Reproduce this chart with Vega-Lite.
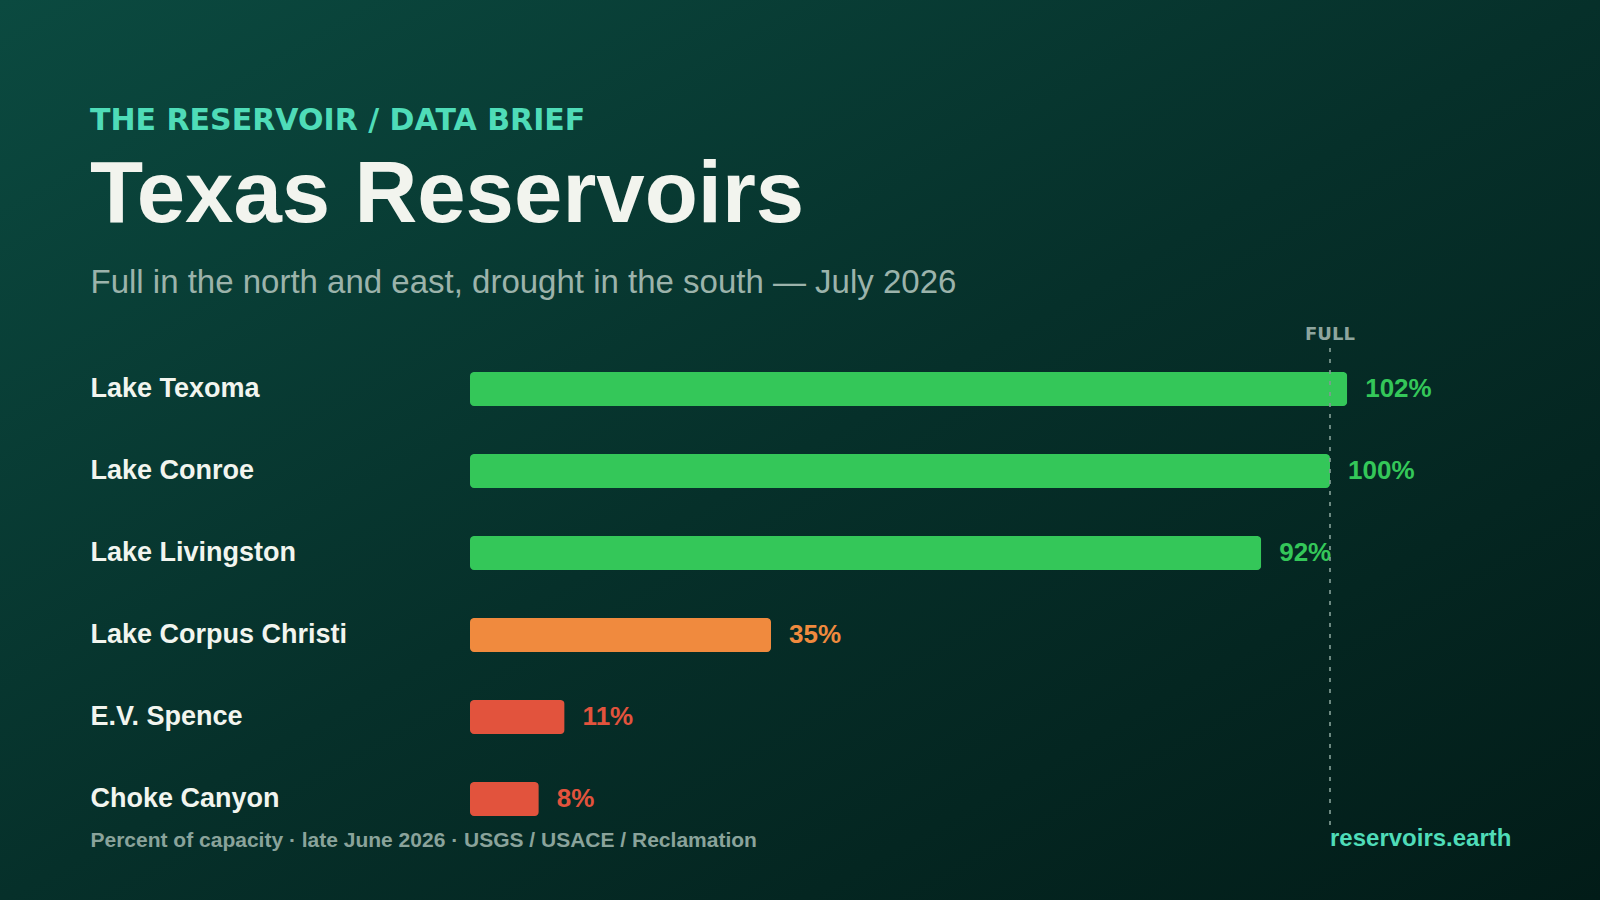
{
  "$schema": "https://vega.github.io/schema/vega-lite/v6.json",
  "width": 1600,
  "height": 900,
  "autosize": {"type": "fit", "contains": "padding"},
  "padding": 0,
  "background": "#06302a",
  "title": {
    "text": "THE RESERVOIR / DATA BRIEF",
    "subtitle": "Texas Reservoirs",
    "anchor": "start",
    "frame": "group",
    "orient": "top",
    "offset": -239,
    "dx": 90,
    "font": "DejaVu Sans",
    "fontSize": 30,
    "fontWeight": "bold",
    "color": "#4fdcb8",
    "subtitleFont": "Liberation Sans",
    "subtitleFontSize": 87,
    "subtitleFontWeight": "bold",
    "subtitleColor": "#f2f4ee",
    "subtitlePadding": 17
  },
  "data": {
    "values": [
      {"lake": "Lake Texoma", "capacity": 1.02, "level": "high"},
      {"lake": "Lake Conroe", "capacity": 1.0, "level": "high"},
      {"lake": "Lake Livingston", "capacity": 0.92, "level": "high"},
      {"lake": "Lake Corpus Christi", "capacity": 0.35, "level": "mid"},
      {"lake": "E.V. Spence", "capacity": 0.11, "level": "low"},
      {"lake": "Choke Canyon", "capacity": 0.08, "level": "low"}
    ]
  },
  "encoding": {
    "x": {
      "field": "capacity",
      "type": "quantitative",
      "scale": {"domain": [0, 1], "range": [470, 1330], "nice": false, "zero": true},
      "axis": {
        "orient": "top",
        "labels": false,
        "ticks": false,
        "domain": false,
        "grid": false,
        "title": "Full in the north and east, drought in the south — July 2026",
        "titleX": 90,
        "titleY": 292,
        "titleAlign": "left",
        "titleAngle": 0,
        "titleBaseline": "alphabetic",
        "titleFont": "Liberation Sans",
        "titleFontSize": 33,
        "titleFontWeight": "normal",
        "titleColor": "#9cb3ab"
      }
    },
    "y": {
      "field": "lake",
      "type": "nominal",
      "sort": null,
      "scale": {"type": "band", "range": [348, 840], "paddingInner": 0, "paddingOuter": 0},
      "axis": {
        "orient": "left",
        "domain": false,
        "ticks": false,
        "grid": false,
        "labelAlign": "left",
        "labelBaseline": "middle",
        "labelPadding": -90,
        "labelLimit": 0,
        "labelFont": "Liberation Sans",
        "labelFontSize": 27,
        "labelFontWeight": "bold",
        "labelColor": "#f2f5ef",
        "title": "Percent of capacity · late June 2026 · USGS / USACE / Reclamation",
        "titleAngle": 0,
        "titleX": 90,
        "titleY": 846,
        "titleAlign": "left",
        "titleBaseline": "alphabetic",
        "titleFont": "Liberation Sans",
        "titleFontSize": 21,
        "titleFontWeight": "bold",
        "titleColor": "#8aa39b"
      }
    },
    "color": {
      "field": "level",
      "type": "nominal",
      "scale": {"domain": ["high", "mid", "low"], "range": ["#34c759", "#f08a3e", "#e2533d"]},
      "legend": null
    }
  },
  "layer": [
    {
      "mark": {"type": "bar", "height": {"band": 0.415}, "cornerRadius": 4}
    },
    {
      "mark": {"type": "text", "align": "left", "baseline": "middle", "dx": 18, "font": "Liberation Sans", "fontSize": 26, "fontWeight": "bold"},
      "encoding": {
        "text": {"field": "capacity", "type": "quantitative", "format": ".0%"}
      }
    },
    {
      "data": {"values": [{"label": "FULL", "site": "reservoirs.earth", "capacity": 1}]},
      "mark": {"type": "rule", "strokeDash": [4, 7], "strokeWidth": 2, "opacity": 0.85},
      "encoding": {
        "y": {"datum": "Lake Texoma", "type": "nominal", "bandPosition": 0},
        "y2": {"datum": "Choke Canyon", "bandPosition": 0.82},
        "color": {"value": "#7f9a92"}
      }
    },
    {
      "data": {"values": [{"label": "FULL", "site": "reservoirs.earth", "capacity": 1}]},
      "mark": {"type": "text", "align": "center", "baseline": "alphabetic", "dy": -8, "font": "DejaVu Sans", "fontSize": 18, "fontWeight": "bold"},
      "encoding": {
        "y": {"datum": "Lake Texoma", "type": "nominal", "bandPosition": 0},
        "text": {"field": "label"},
        "color": {"value": "#8ea59e"}
      }
    },
    {
      "data": {"values": [{"label": "FULL", "site": "reservoirs.earth", "capacity": 1}]},
      "mark": {"type": "text", "align": "left", "baseline": "alphabetic", "dy": 6, "font": "Liberation Sans", "fontSize": 24, "fontWeight": "bold"},
      "encoding": {
        "y": {"datum": "Choke Canyon", "type": "nominal", "bandPosition": 1},
        "text": {"field": "site"},
        "color": {"value": "#4fdcb8"}
      }
    }
  ],
  "config": {
    "view": {
      "stroke": null,
      "fill": {
        "gradient": "linear",
        "x1": 0, "y1": 0, "x2": 1, "y2": 1,
        "stops": [
          {"offset": 0, "color": "#0b4a40"},
          {"offset": 0.5, "color": "#06302a"},
          {"offset": 1, "color": "#021c18"}
        ]
      }
    },
    "font": "Liberation Sans"
  }
}
